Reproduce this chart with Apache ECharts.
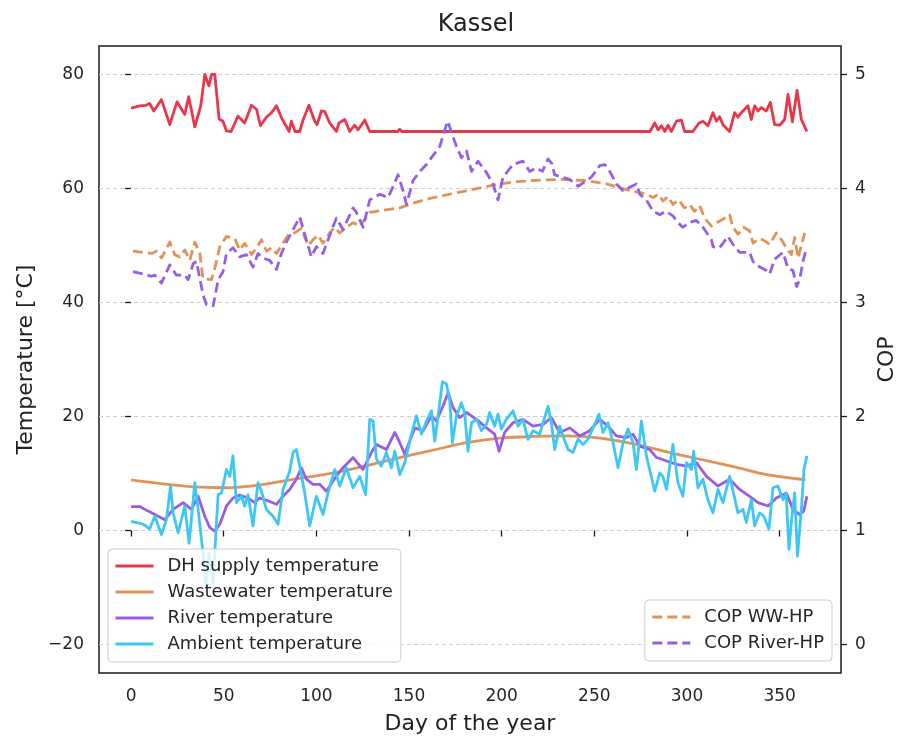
<!DOCTYPE html>
<html>
<head>
<meta charset="utf-8">
<script src="https://cdn.jsdelivr.net/npm/echarts@6/dist/echarts.min.js"></script>
<style>
  html, body { margin: 0; padding: 0; background: #fff; }
  #chart { width: 898px; height: 737px; }
</style>
</head>
<body>
<div id="chart"></div>
<script>
// Day-of-year samples and values for each curve
const dhDays = [0,4.7,8,10,12.3,16.4,20.9,24.8,29,31.1,34.4,37.6,39.8,42,43.4,45.2,47.5,49.6,51.5,54,57.7,61.3,65,67.7,69.8,73,75.8,78.5,81.2,85.3,86.5,88.5,91,92.8,96,99.1,100.4,102.7,104.5,107.2,110.8,112.2,115.3,118,120.7,122.5,126.1,128.8,144,145,146,280,282.6,284.4,286.2,288,289.8,291.6,294.3,297,298.7,303.2,306.5,308.6,311.3,314,315.9,317.6,319.4,323,325.7,327.5,329.3,332.9,334.7,336.5,338.3,340.1,342.8,345,347.3,350,352.7,354.5,356.9,359.4,361.7,364.7];
const dhTemp = [74.1,74.5,74.6,74.9,73.6,75.6,71.2,75.2,73.0,76.1,70.8,74.5,80,78,80,80,72.2,71.8,70.1,70,72.7,71.5,74.6,73.9,71.0,72.5,73.3,74.5,72.4,70,71.8,70,70,72.0,74.6,71.8,71.2,73.6,73.5,71.5,70,71.5,72.1,70,71.1,70.3,72.0,70,70,70.4,70,70,71.5,70.3,71.0,70,71.1,70,71.8,72.0,70,70,71.5,71.8,71.0,73.3,71.8,72.6,71.2,70,73.3,72.5,73.3,74.5,72.1,74.5,73.6,74.2,73.6,75.1,71.2,71.1,72.1,76.5,71.7,77.2,72.1,70];

const wwDays = [0,14,32,50,68,86,104,122,140,152,163,181,199,217,235,253,271,289,307,325,343,364];
const wwTemp = [8.9,8.3,7.7,7.5,7.9,8.9,9.8,11.0,12.4,13.3,14.1,15.4,16.2,16.5,16.6,16.2,15.2,13.8,12.5,11.2,9.8,8.9];

const riverDays = [0,4.7,9.2,14.6,18.2,22.7,28.1,32.6,36.2,39.8,42.5,45.2,47.9,51.5,55,58.6,63.1,66.7,69.4,74.8,78.5,82,85.6,89.2,91.9,94.6,98.2,101.8,105.4,109,113.5,119.8,125.2,129.7,132.4,137.8,142.3,145,147.7,153.1,157.6,162.1,164.8,168.3,171.1,173.7,177.3,181,186.4,191.8,196.2,198.6,201.6,206.1,211.5,216.9,222.3,226.8,231.3,236.7,242.1,247.5,252.9,257.4,261.9,267.3,270.9,274.5,279.9,283.6,289,294.4,299.7,305.1,310.5,316.7,323,328.4,333.8,338.3,343.7,348.2,353.6,357.2,360.8,363,364.7];
const riverTemp = [4.2,4.2,3.4,2.5,1.9,3.7,4.9,3.7,6.0,2.5,0.5,-0.1,1.1,4.3,5.7,6.2,5.7,4.9,5.7,5.1,4.6,6.0,7.2,9.0,11.0,9.0,8.1,8.1,6.9,8.7,10.7,12.8,10.7,13.7,15.1,14.2,17.2,15.4,13.4,18.0,17.5,20.1,19.2,21.8,24.2,21.6,19.8,20.7,19.5,18.0,16.9,13.9,17.2,18.9,19.5,18.3,18.6,19.8,17.2,18.0,16.6,17.5,19.5,18.3,16.6,16.3,16.9,14.8,14.2,12.8,12.2,11.6,11.3,11.9,9.5,7.8,9.0,7.2,6.0,4.9,4.3,5.7,6.6,3.7,2.8,3.4,6.0];

const ambDays = [0,3,6.5,10.1,12.8,16.4,19.1,21.3,22.7,25.4,29,31.3,34.4,36.2,38.8,40.3,42,44.3,46,47,48.8,51.5,53.3,55,56.9,59.6,61.3,63.1,65.8,68.5,70.3,73,76.6,79.3,82,85.6,87.4,89.2,91,93.7,96.4,100,103.6,106.3,109.9,112.6,116.2,119.8,123.4,126.6,128.8,130.6,132.4,135.1,137.8,140.5,142.3,145,147.7,151.3,154,156.7,159.4,162.1,163.9,165.7,168,170.2,172,173.4,175.6,178.3,180,181.8,183.7,186.4,189.1,191.8,193.5,196.2,198,199.8,202.5,206.1,208.8,211.5,214.2,216.9,220.5,225,226.8,228.6,231.3,233.1,235.8,238.5,241.2,243.9,246.6,249.3,252.5,254.7,257.4,260.1,262.8,265.5,268.2,270.9,272.7,275.4,278.1,282.6,285.3,287,288.9,292.4,295.1,297.8,299.7,302.4,303.6,305.9,308.6,311.3,314,316.7,319.4,323,325.7,327.5,330.2,332,334.7,336.5,339.2,341.5,344.2,346.4,349.1,351.8,353.5,355,356.3,358.1,359.6,361.7,363.1,364.7];
const ambTemp = [1.6,1.4,1.1,0.3,2.5,-0.7,1.9,7.8,3.1,-0.4,4.3,-2.2,8.4,3.7,-3.9,-9.8,-4,-9.5,1,6.3,6.6,10.7,9.5,13.1,4.9,6.0,4.3,6.3,0.8,8.4,7.0,3.7,2.5,1.1,7.2,10.4,13.7,14.2,11.3,6.6,0.8,6.0,2.8,6.6,10.7,7.8,11.0,7.5,9.5,6.3,19.5,19.2,12.5,11.3,13.7,11.0,13.9,9.8,11.9,16.9,20.1,16.9,19.2,21.0,15.7,20.1,26.1,25.7,22.7,15.4,20.1,22.4,20.7,13.9,18.9,19.5,17.5,18.6,20.7,18.3,20.4,17.8,19.5,21.0,18.3,19.5,16.0,17.5,16.9,21.8,18.9,14.2,18.3,16.6,14.2,13.7,16.0,15.1,16.0,18.0,20.4,17.2,18.9,15.4,11.0,15.4,17.8,15.4,10.7,19.2,13.1,6.9,10.1,9.5,7.2,15.1,8.4,6.0,11.9,10.7,13.9,7.5,9.0,5.4,3.1,7.2,4.9,9.5,5.7,3.1,3.7,1.4,5.4,0.8,3.1,2.5,0.2,7.5,7.8,5.4,6.5,-3.3,1.4,6.6,-4.5,3.7,10.7,13.1];

const copWwDays = [1,6.5,11,13.7,16.4,20.9,23.6,26.3,29,31.7,34.4,37.1,38.8,43.4,45.2,47.9,51.5,56,58.6,61.3,65,67.7,70.4,73.1,75.8,78.5,81.1,84.7,88.3,91.9,95.5,98.2,100.9,103.6,107.2,109.9,112.6,116.2,119.8,123.4,128.8,136,145,154,163,172,181,190,199,208,217,231,245.7,256.5,267.3,278.1,281.7,284.4,287,289.7,292.4,295.5,298.7,301.4,304.1,306.8,309.5,313.2,316,319.4,323,324.8,327.5,330.5,333.8,335.6,338.5,341,344.6,348.2,351,353.6,356.3,358.1,359.9,363.5];
const copWw = [3.45,3.44,3.43,3.45,3.39,3.53,3.42,3.40,3.46,3.37,3.53,3.43,3.21,3.20,3.30,3.49,3.58,3.56,3.46,3.52,3.42,3.48,3.55,3.45,3.48,3.43,3.50,3.59,3.61,3.65,3.50,3.55,3.59,3.52,3.61,3.66,3.61,3.66,3.70,3.67,3.79,3.81,3.83,3.88,3.92,3.95,3.98,4.01,4.04,4.06,4.07,4.08,4.07,4.04,3.99,3.95,3.92,3.95,3.89,3.93,3.86,3.90,3.83,3.86,3.80,3.85,3.74,3.67,3.70,3.73,3.77,3.66,3.60,3.66,3.63,3.52,3.56,3.55,3.51,3.61,3.55,3.48,3.42,3.57,3.39,3.61];

const copRiverDays = [1,6.5,11,12.8,16.4,20.9,24.5,29,30.8,33.5,35.3,38.8,40.7,44.3,47,49.6,51.5,55,58.6,62.3,65.8,68.5,71.2,74.8,78.5,81.1,83.8,86.5,91,94.6,97.3,100,103.6,106.3,110.8,114.4,119.8,121.6,125.2,128.8,134.2,138.7,141.4,144.1,146.8,148.6,152.2,155.8,159.4,163,166.6,170.2,171,172.9,175.6,178.3,181,183.7,187.2,191.8,195.3,198,200.7,206.1,211.5,215.1,218.7,222,225,227,228.6,232.2,236.7,241.2,244,248.4,252.9,255.6,258.3,261.9,265.5,269.1,272.7,274.5,278.1,281.7,285.3,288.5,292.4,295.1,297.8,301,305,308.6,313.2,314,317.6,322.1,324.8,328.4,333.8,335.6,338.3,342.8,344.6,347.3,351.8,354.5,357.2,359.1,360.8,362.6,364.5];
const copRiver = [3.27,3.25,3.23,3.24,3.17,3.33,3.24,3.24,3.20,3.34,3.36,3.07,2.98,2.97,3.20,3.27,3.43,3.48,3.40,3.42,3.31,3.43,3.39,3.37,3.29,3.43,3.53,3.61,3.75,3.55,3.40,3.49,3.43,3.55,3.74,3.64,3.83,3.79,3.66,3.90,3.95,3.92,4.02,4.12,3.98,3.86,4.07,4.15,4.21,4.29,4.37,4.56,4.59,4.49,4.37,4.27,4.33,4.15,4.24,4.14,4.04,3.90,4.10,4.21,4.24,4.15,4.18,4.15,4.26,4.22,4.12,4.10,4.08,4.02,4.05,4.10,4.20,4.21,4.15,4.04,3.98,4.01,4.04,3.95,3.90,3.80,3.77,3.80,3.76,3.70,3.66,3.70,3.72,3.66,3.55,3.49,3.48,3.58,3.51,3.44,3.44,3.36,3.32,3.28,3.25,3.38,3.44,3.30,3.28,3.14,3.20,3.36,3.48];

// Tick labels
const dayTicks = [0, 50, 100, 150, 200, 250, 300, 350];
const tempTicks = [-20, 0, 20, 40, 60, 80];
const copTicks = [0, 1, 2, 3, 4, 5];

const FONT = 'DejaVu Sans';
const C_DH = '#e8364b';
const C_WW = '#e39257';
const C_RIVER = '#9a5ce0';
const C_AMB = '#3ec7f4';
const C_COP_RIVER = '#9560e6';

function pairs(xs, ys) { return xs.map((x, i) => [x, ys[i]]); }

function lineSeries(name, xs, ys, color, axis, dashed, smooth) {
  return {
    name: name,
    type: 'line',
    yAxisIndex: axis,
    data: pairs(xs, ys),
    symbol: 'none',
    smooth: smooth ? 0.3 : false,
    lineStyle: { color: color, width: 2.8, type: dashed ? [10, 5] : 'solid', cap: 'butt', join: 'round' },
    itemStyle: { color: color },
    z: axis === 1 ? 3 : 2
  };
}

const chart = echarts.init(document.getElementById('chart'), null, { renderer: 'canvas' });

// Shared legend look: translucent rounded box, line-only keys
const legendBox = {
  orient: 'vertical',
  backgroundColor: 'rgba(255,255,255,0.8)',
  borderColor: '#cccccc',
  borderWidth: 1,
  borderRadius: 4,
  itemWidth: 38,
  itemHeight: 14,
  itemGap: 8,
  itemStyle: { opacity: 0 },
  lineStyle: { width: 3 },
  textStyle: { fontFamily: FONT, fontSize: 18, color: '#262626', padding: [0, 0, 0, 9] },
  z: 10
};

const tickLabel = { fontFamily: FONT, fontSize: 17, color: '#262626' };
const tickLine = { color: '#1a1a1a', width: 1.3 };
const nameText = { fontFamily: FONT, fontSize: 22, color: '#222' };

chart.setOption({
  animation: false,
  backgroundColor: '#ffffff',
  title: {
    text: 'Kassel',
    left: 471,
    textAlign: 'center',
    top: 8,
    textStyle: { fontFamily: FONT, fontSize: 24, fontWeight: 'normal', color: '#222' }
  },
  grid: {
    left: 99, right: 57, top: 46, bottom: 64,
    outerBoundsMode: 'none',
    containLabel: false,
    show: true, borderColor: '#1a1a1a', borderWidth: 1.5, backgroundColor: 'transparent'
  },
  legend: [
    Object.assign({}, legendBox, {
      left: 108, top: 549,
      padding: [8, 8, 9, 6],
      data: ['DH supply temperature', 'Wastewater temperature', 'River temperature', 'Ambient temperature']
    }),
    Object.assign({}, legendBox, {
      right: 66, top: 600,
      padding: [8, 8, 9, 6],
      data: ['COP WW-HP', 'COP River-HP']
    })
  ],
  xAxis: {
    type: 'value',
    min: -17.3, max: 383.1,
    name: 'Day of the year',
    nameLocation: 'middle',
    nameGap: 40,
    nameTextStyle: nameText,
    axisLine: { show: false },
    axisTick: { show: true, length: 6, customValues: dayTicks, lineStyle: tickLine },
    axisLabel: Object.assign({ customValues: dayTicks, margin: 15 }, tickLabel),
    splitLine: { show: false }
  },
  yAxis: [
    {
      type: 'value',
      min: -25, max: 85,
      position: 'left',
      name: 'Temperature [°C]',
      nameLocation: 'middle',
      nameRotate: 90,
      nameGap: 60,
      nameTextStyle: nameText,
      axisLine: { show: false },
      axisTick: { show: true, length: 6, customValues: tempTicks, lineStyle: tickLine },
      axisLabel: Object.assign({ customValues: tempTicks, margin: 15,
        formatter: v => (v < 0 ? '\u2212' + Math.abs(v) : String(v)) }, tickLabel),
      splitLine: { show: true, customValues: tempTicks, lineStyle: { color: '#cfcfcf', width: 1, type: [4, 3] } }
    },
    {
      type: 'value',
      min: -0.25, max: 5.25,
      position: 'right',
      name: 'COP',
      nameLocation: 'middle',
      nameRotate: 90,
      nameGap: 34,
      nameTextStyle: nameText,
      axisLine: { show: false },
      axisTick: { show: true, length: 6, customValues: copTicks, lineStyle: tickLine },
      axisLabel: Object.assign({ customValues: copTicks, margin: 14 }, tickLabel),
      splitLine: { show: false }
    }
  ],
  series: [
    lineSeries('DH supply temperature', dhDays, dhTemp, C_DH, 0, false, false),
    lineSeries('Wastewater temperature', wwDays, wwTemp, C_WW, 0, false, true),
    lineSeries('River temperature', riverDays, riverTemp, C_RIVER, 0, false, false),
    lineSeries('Ambient temperature', ambDays, ambTemp, C_AMB, 0, false, false),
    lineSeries('COP WW-HP', copWwDays, copWw, C_WW, 1, true, false),
    lineSeries('COP River-HP', copRiverDays, copRiver, C_COP_RIVER, 1, true, false)
  ]
});
</script>
</body>
</html>
